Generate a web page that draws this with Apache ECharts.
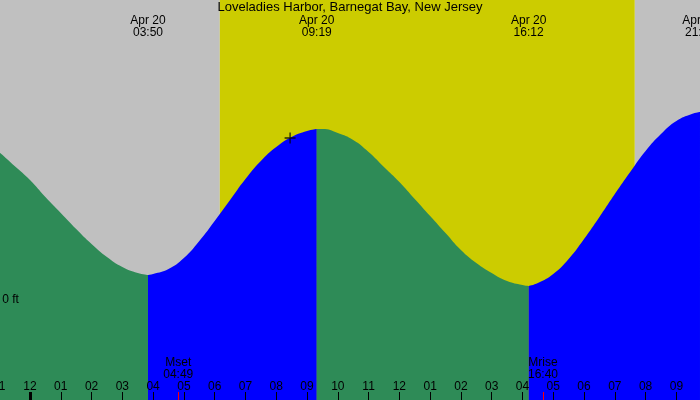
<!DOCTYPE html>
<html>
<head>
<meta charset="utf-8">
<script src="https://cdn.jsdelivr.net/npm/echarts@6/dist/echarts.min.js"></script>
<style>html,body{margin:0;padding:0;background:#fff}#c{width:700px;height:400px}</style>
</head>
<body>
<div id="c"></div>
<script>
// ---- data (hours since Apr 20 00:00, heights in ft) ----
const titleText = 'Loveladies Harbor, Barnegat Bay, New Jersey';
const hourTickValues = [-1,0,1,2,3,4,5,6,7,8,9,10,11,12,13,14,15,16,17,18,19,20,21,22];
const hourTickLabels = ['11','12','01','02','03','04','05','06','07','08','09','10','11','12','01','02','03','04','05','06','07','08','09','10'];
const tideHours = [-1,-0.5,0,0.5,1,1.5,2,2.5,3,3.5,3.833,4,4.5,5,5.5,6,6.5,7,7.5,8,8.5,9,9.317,9.5,10,10.5,11,11.5,12,12.5,13,13.5,14,14.5,15,15.5,16,16.2,16.5,17,17.5,18,18.5,19,19.5,20,20.5,21,21.5,21.767,22];
const tideFeet  = [1.48,1.34,1.20,1.03,0.87,0.71,0.56,0.43,0.33,0.27,0.25,0.26,0.31,0.42,0.59,0.79,1.00,1.21,1.39,1.53,1.63,1.69,1.71,1.71,1.67,1.60,1.48,1.33,1.18,1.01,0.84,0.67,0.50,0.37,0.27,0.19,0.15,0.14,0.17,0.26,0.41,0.61,0.83,1.06,1.28,1.49,1.66,1.79,1.86,1.88,1.87];
const extremeDates = ['Apr 20','Apr 20','Apr 20','Apr 20'];
const extremeTimes = ['03:50','09:19','16:12','21:46'];
const moonNames = ['Mset','Mrise'];
const moonTimes = ['04:49','16:40'];
const sunriseTime = '06:10';
const sunsetTime = '19:39';
const midnightHours = [0];
const markerHours = [8.45];
const markerFeet = [1.62];
const yTickValues = [0];
const yTickLabels = ['0 ft'];

// ---- helpers ----
const toH = s => { const p = s.split(':'); return +p[0] + (+p[1]) / 60; };
const extremeHours = extremeTimes.map(toH);
const moonHours = moonTimes.map(toH);
const sunrise = toH(sunriseTime), sunset = toH(sunsetTime);
const X_MIN = -1, X_MAX = 22;
const FONT = 'Liberation Sans, Arial, sans-serif';
const GREEN = '#2E8B57', BLUE = '#0000FF', GREY = '#C0C0C0', YELLOW = '#CCCC00';

// split tide curve into rising / falling segments at extremes
const bounds = [X_MIN].concat(extremeHours, [X_MAX]);
const segs = [];
for (let i = 0; i < bounds.length - 1; i++) {
  const a = bounds[i], b = bounds[i + 1];
  const pts = [];
  tideHours.forEach((h, k) => { if (h >= a - 0.01 && h <= b + 0.01) pts.push([h, tideFeet[k]]); });
  if (pts.length > 1) {
    const rising = pts[pts.length - 1][1] > pts[0][1];
    segs.push({ pts, color: rising ? BLUE : GREEN });
  }
}

const baseX = {
  type: 'value', min: X_MIN, max: X_MAX, gridIndex: 0, z: 10,
  axisLine: { show: false, onZero: false }, splitLine: { show: false }
};

const chart = echarts.init(document.getElementById('c'), null, { renderer: 'canvas' });
chart.setOption({
  animation: false,
  backgroundColor: '#fff',
  title: {
    text: titleText, left: 'center', top: 1, padding: 0, z: 10,
    textStyle: { fontSize: 13, fontWeight: 'normal', color: '#000', fontFamily: FONT }
  },
  grid: { left: -0.78, top: 0, width: 707.94, height: 400, containLabel: false, outerBoundsMode: 'none' },
  xAxis: [
    Object.assign({}, baseX, {
      position: 'bottom', interval: 1,
      axisTick: { show: true, inside: true, length: 8, lineStyle: { color: '#000', width: 1 } },
      axisLabel: {
        inside: true, margin: 7, color: '#000', fontSize: 12, fontFamily: FONT,
        showMinLabel: true, showMaxLabel: true, hideOverlap: false,
        formatter: v => { const i = hourTickValues.indexOf(Math.round(v)); return i >= 0 ? hourTickLabels[i] : ''; }
      }
    }),
    Object.assign({}, baseX, {
      position: 'bottom',
      axisTick: { show: true, inside: true, length: 8, customValues: moonHours, lineStyle: { color: '#FF0000', width: 1 } },
      axisLabel: {
        inside: true, margin: 19, color: '#000', fontSize: 12, fontFamily: FONT, lineHeight: 12,
        customValues: moonHours,
        formatter: v => { const i = moonHours.findIndex(m => Math.abs(m - v) < 1e-6); return i >= 0 ? moonNames[i] + '\n' + moonTimes[i] : ''; }
      }
    }),
    Object.assign({}, baseX, {
      position: 'bottom',
      axisTick: { show: true, inside: true, length: 8, customValues: midnightHours, lineStyle: { color: '#000', width: 3 } },
      axisLabel: { show: false }
    }),
    Object.assign({}, baseX, {
      position: 'top',
      axisTick: { show: false },
      axisLabel: {
        inside: true, margin: 15, color: '#000', fontSize: 12, fontFamily: FONT, lineHeight: 12,
        customValues: extremeHours,
        formatter: v => { const i = extremeHours.findIndex(m => Math.abs(m - v) < 1e-6); return i >= 0 ? extremeDates[i] + '\n' + extremeTimes[i] : ''; }
      }
    })
  ],
  yAxis: {
    type: 'value', min: -1, max: 3, z: 10,
    axisLine: { show: false, onZero: false }, axisTick: { show: false }, splitLine: { show: false },
    axisLabel: {
      inside: true, margin: 3, color: '#000', fontSize: 12, fontFamily: FONT,
      padding: [5, 0, 0, 0],
      customValues: yTickValues,
      formatter: v => { const i = yTickValues.indexOf(v); return i >= 0 ? yTickLabels[i] : ''; }
    }
  },
  series: [
    {
      type: 'line', xAxisIndex: 0, data: [[X_MIN, 0]], symbol: 'none', z: 0,
      lineStyle: { opacity: 0 }, silent: true,
      markArea: {
        silent: true,
        data: [
          [{ xAxis: X_MIN, itemStyle: { color: GREY, opacity: 1 } }, { xAxis: sunrise }],
          [{ xAxis: sunrise, itemStyle: { color: YELLOW, opacity: 1 } }, { xAxis: sunset }],
          [{ xAxis: sunset, itemStyle: { color: GREY, opacity: 1 } }, { xAxis: X_MAX }]
        ]
      }
    }
  ].concat(segs.map(s => ({
    type: 'line', xAxisIndex: 0, data: s.pts, symbol: 'none', showSymbol: false, z: 2,
    smooth: 0.5,
    lineStyle: { width: 0 },
    areaStyle: { color: s.color, opacity: 1, origin: 'start' }
  }))).concat([
    {
      type: 'scatter', xAxisIndex: 0, z: 5,
      data: markerHours.map((h, i) => [h, markerFeet[i]]),
      symbol: 'path://M0,4.4H10V5.6H0Z M4.4,0H5.6V10H4.4Z',
      symbolSize: 11, itemStyle: { color: '#000' }
    }
  ])
});
</script>
</body>
</html>
